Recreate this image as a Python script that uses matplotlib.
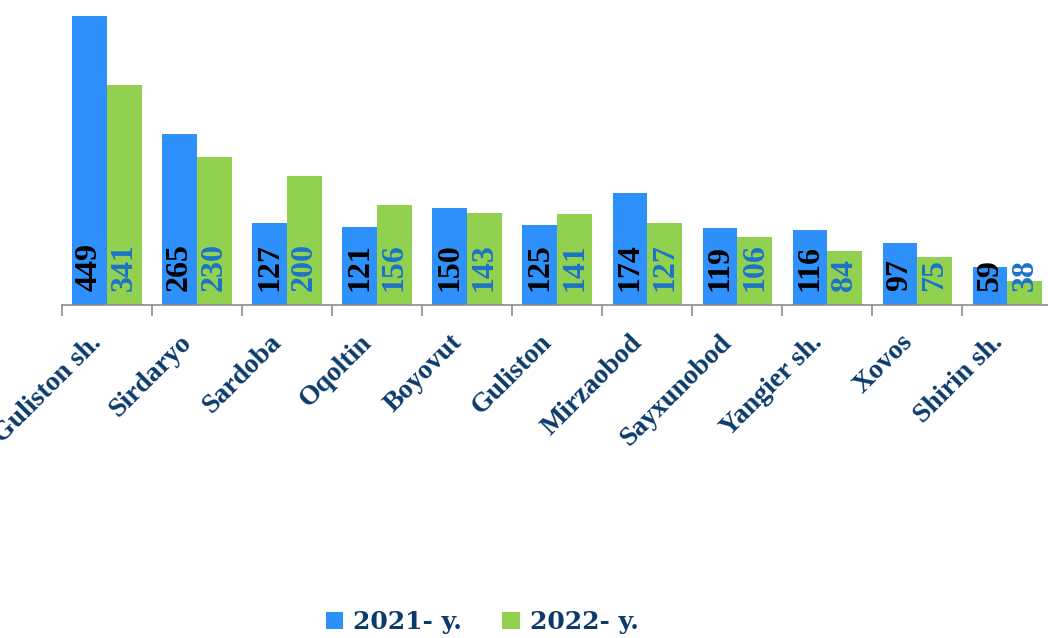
import numpy as np
import matplotlib.pyplot as plt
from matplotlib.ticker import FixedLocator

districts = ["Guliston sh.", "Sirdaryo", "Sardoba", "Oqoltin", "Boyovut", "Guliston",
             "Mirzaobod", "Sayxunobod", "Yangier sh.", "Xovos", "Shirin sh."]
y2021 = [449, 265, 127, 121, 150, 125, 174, 119, 116, 97, 59]
y2022 = [341, 230, 200, 156, 143, 141, 127, 106, 84, 75, 38]
series_names = ["2021- y.", "2022- y."]

blue = "#2E90FA"
green = "#92D050"
navy = "#0B3A6B"

fig = plt.figure(figsize=(10.48, 6.38), dpi=100)
ax = fig.add_axes([0.059, 0.522, 0.941, 0.453])

x = np.arange(len(districts))
w = 0.385
b1 = ax.bar(x - w / 2, y2021, w, color=blue, label=series_names[0])
b2 = ax.bar(x + w / 2, y2022, w, color=green, label=series_names[1])

# value labels sit near the bottom of each bar, rotated
for xi, v in zip(x, y2021):
    ax.text(xi - w / 2, 22, str(v), rotation=90, ha="center", va="bottom",
            fontsize=23, fontweight="bold", family="Liberation Serif", color="black")
for xi, v in zip(x, y2022):
    ax.text(xi + w / 2, 22, str(v), rotation=90, ha="center", va="bottom",
            fontsize=23, fontweight="bold", family="Liberation Serif", color="#1A73C9")

ax.set_xlim(-0.5, 10.45)
ax.set_ylim(0, 449)

for s in ["top", "right", "left"]:
    ax.spines[s].set_visible(False)
ax.spines["bottom"].set_color("#8C8C8C")
ax.spines["bottom"].set_linewidth(1.2)
ax.set_yticks([])

ax.xaxis.set_major_locator(FixedLocator(np.arange(-0.5, 11, 1)))
ax.tick_params(axis="x", which="major", length=8, color="#8C8C8C", width=1.2, labelbottom=False)
ax.tick_params(axis="x", which="minor", length=0, pad=18)
ax.set_xticks(x, minor=True)
ax.set_xticklabels(districts, minor=True, rotation=45, ha="right", va="top",
                   fontsize=20, fontweight="bold", family="Liberation Serif", color=navy)

fig.legend(handles=[b1, b2], labels=series_names, loc="center", bbox_to_anchor=(0.46, 0.025),
           ncol=2, frameon=False, handlelength=0.7, handleheight=0.7, handletextpad=0.4,
           columnspacing=1.6, prop={"family": "DejaVu Serif", "weight": "bold", "size": 18},
           labelcolor=navy)

fig.savefig("out.png", dpi=100)
